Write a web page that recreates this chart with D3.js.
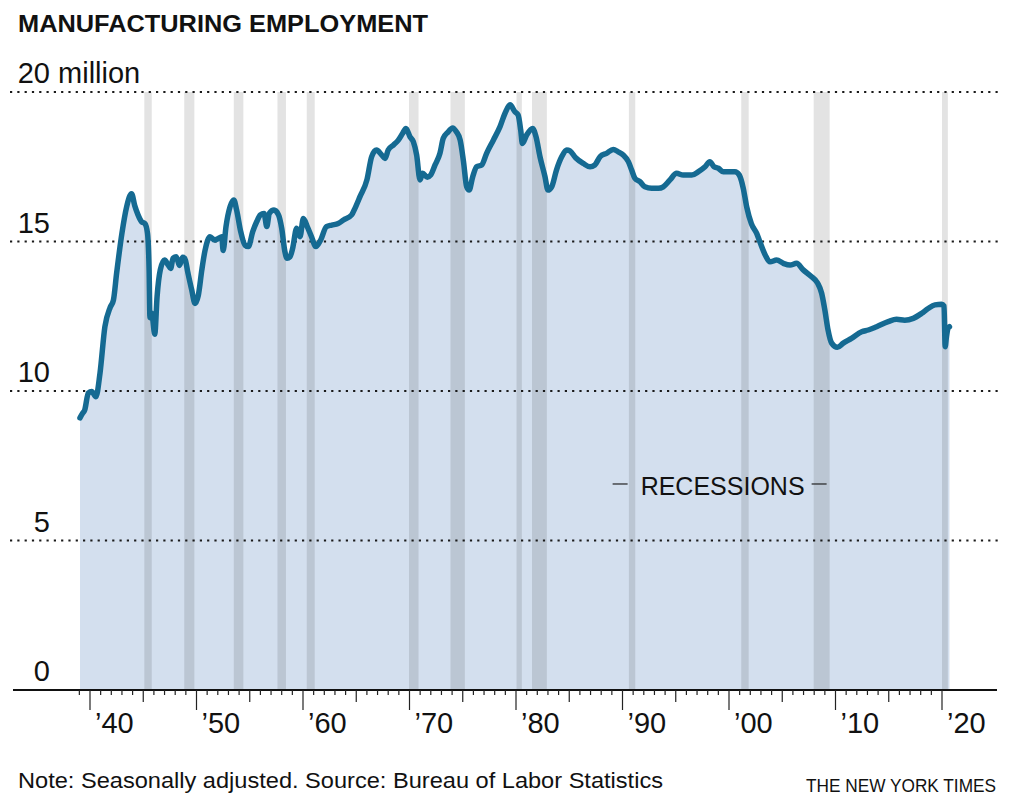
<!DOCTYPE html>
<html>
<head>
<meta charset="utf-8">
<script src="https://cdn.jsdelivr.net/npm/d3@7"></script>
<style>
  body { margin: 0; background: #fff; }
  text { font-family: "Liberation Sans", Arial, Helvetica, sans-serif; fill: #111; }
</style>
</head>
<body>
<script>
// monthly-ish readings of US manufacturing employment, millions
var years = [
  1939.06, 1939.3, 1939.5, 1939.84, 1940.16, 1940.56, 1940.94, 1941.4, 1941.9, 1942.2,
  1942.5, 1943.0, 1943.44, 1943.9, 1944.2, 1944.5, 1944.85, 1945.16, 1945.4, 1945.55,
  1945.63, 1945.8, 1946.08, 1946.3, 1946.6, 1947.0, 1947.35, 1947.57, 1947.8, 1948.1,
  1948.4, 1948.7, 1948.9, 1949.2, 1949.55, 1949.86, 1950.17, 1950.5, 1950.8, 1951.27,
  1951.7, 1952.05, 1952.37, 1952.5, 1952.77, 1953.15, 1953.5, 1953.77, 1954.15, 1954.55,
  1954.87, 1955.28, 1955.65, 1956.0, 1956.34, 1956.6, 1956.84, 1957.28, 1957.7, 1958.0,
  1958.3, 1958.5, 1958.78, 1959.03, 1959.4, 1959.72, 1960.03, 1960.4, 1960.8, 1961.2,
  1961.66, 1962.2, 1962.7, 1963.3, 1963.8, 1964.57, 1964.88, 1965.35, 1966.0, 1966.45,
  1966.9, 1967.4, 1967.7, 1968.0, 1968.5, 1968.95, 1969.36, 1969.67, 1970.05, 1970.36,
  1970.67, 1970.99, 1971.23, 1971.67, 1971.98, 1972.4, 1972.86, 1973.17, 1973.64, 1974.05,
  1974.4, 1974.76, 1975.07, 1975.37, 1975.6, 1975.94, 1976.3, 1976.78, 1977.24, 1977.87,
  1978.5, 1978.97, 1979.44, 1979.9, 1980.2, 1980.44, 1980.6, 1981.0, 1981.56, 1981.88,
  1982.25, 1982.72, 1983.0, 1983.35, 1983.8, 1984.3, 1984.76, 1985.07, 1985.6, 1986.32,
  1986.95, 1987.4, 1987.9, 1988.5, 1989.13, 1989.6, 1990.07, 1990.55, 1990.86, 1991.17,
  1991.64, 1992.1, 1992.74, 1993.36, 1993.83, 1994.46, 1995.08, 1995.7, 1996.5, 1997.1,
  1997.75, 1998.2, 1998.6, 1999.0, 1999.47, 2000.1, 2000.56, 2000.97, 2001.34, 2001.66,
  2002.1, 2002.6, 2002.9, 2003.4, 2003.85, 2004.47, 2005.1, 2005.73, 2006.35, 2006.97,
  2007.7, 2008.3, 2008.7, 2009.0, 2009.3, 2009.64, 2010.17, 2010.73, 2011.5, 2012.46,
  2013.08, 2013.86, 2014.95, 2015.73, 2016.5, 2017.3, 2018.1, 2018.7, 2019.34, 2019.97,
  2020.19, 2020.3, 2020.42, 2020.57, 2020.7
];
var jobs = [
  9.10, 9.25, 9.36, 9.93, 9.98, 9.81, 10.6, 12.15, 12.8, 13.04,
  13.94, 15.28, 16.16, 16.6, 16.2, 15.9, 15.66, 15.6, 15.27, 14.05,
  12.45, 12.6, 11.9, 13.16, 14.05, 14.38, 14.21, 14.1, 14.44, 14.49,
  14.2, 14.47, 14.44, 13.94, 13.38, 12.93, 13.2, 14.05, 14.7, 15.16,
  15.05, 15.1, 15.16, 14.7, 15.5, 16.16, 16.39, 16.05, 15.33, 14.88,
  14.83, 15.33, 15.66, 15.89, 15.94, 15.5, 15.94, 16.05, 15.89, 15.44,
  14.66, 14.44, 14.49, 14.77, 15.44, 15.16, 15.77, 15.5, 15.16, 14.83,
  15.05, 15.5, 15.55, 15.6, 15.72, 15.89, 16.11, 16.5, 17.06, 17.84,
  18.06, 17.89, 17.78, 18.06, 18.23, 18.39, 18.62, 18.78, 18.5, 18.34,
  17.89, 17.06, 17.28, 17.15, 17.22, 17.56, 17.95, 18.45, 18.67, 18.8,
  18.67, 18.39, 17.67, 16.83, 16.72, 17.17, 17.5, 17.56, 17.95, 18.39,
  18.84, 19.29, 19.57, 19.34, 19.23, 18.73, 18.28, 18.56, 18.78, 18.5,
  17.84, 17.17, 16.72, 16.83, 17.39, 17.84, 18.06, 18.03, 17.8, 17.61,
  17.5, 17.56, 17.84, 17.95, 18.08, 18.0, 17.89, 17.67, 17.39, 17.11,
  17.0, 16.83, 16.78, 16.78, 16.83, 17.06, 17.28, 17.22, 17.22, 17.33,
  17.5, 17.67, 17.5, 17.45, 17.33, 17.33, 17.33, 17.22, 16.78, 16.16,
  15.6, 15.27, 14.99, 14.55, 14.32, 14.38, 14.27, 14.21, 14.27, 14.05,
  13.84, 13.62, 13.27, 12.71, 12.04, 11.6, 11.46, 11.6, 11.76, 11.98,
  12.04, 12.15, 12.32, 12.4, 12.37, 12.43, 12.6, 12.76, 12.88, 12.9,
  12.84, 11.48, 11.82, 12.1, 12.15
];
var recessionStart = [1945.1, 1948.85, 1953.5, 1957.6, 1960.35, 1969.95, 1973.85, 1980.05, 1981.5, 1990.6, 2001.15, 2007.95, 2020.0];
var recessionEnd   = [1945.8, 1949.8, 1954.4, 1958.4, 1961.1, 1970.85, 1975.2, 1980.55, 1982.9, 1991.2, 2001.85, 2009.45, 2020.55];
var yTicks = [0, 5, 10, 15, 20];
var decadeTicks = [1940, 1950, 1960, 1970, 1980, 1990, 2000, 2010, 2020];
var decadeLabels = ["\u201940", "\u201950", "\u201960", "\u201970", "\u201980", "\u201990", "\u201900", "\u201910", "\u201920"];

var width = 1024, height = 802;

var x = d3.scaleLinear().domain([1940, 2020]).range([90, 942]);
var y = d3.scaleLinear().domain([0, 20]).range([690, 92]);

var data = years.map(function(d, i) { return { t: d, v: jobs[i] }; });

var svg = d3.select('body').append('svg')
    .attr('width', width)
    .attr('height', height);

svg.append('text')
    .attr('x', 18).attr('y', 32)
    .attr('textLength', 410)
    .attr('lengthAdjust', 'spacingAndGlyphs')
    .style('font-size', '24px')
    .style('font-weight', 'bold')
    .text('MANUFACTURING EMPLOYMENT');

// area
var area = d3.area()
    .curve(d3.curveMonotoneX)
    .x(function(d) { return x(d.t); })
    .y0(y(0))
    .y1(function(d) { return y(d.v); });

svg.append('path')
    .datum(data)
    .attr('fill', '#d3dfee')
    .attr('d', area);

// recession bars, drawn as a dark tint so they darken the area too
svg.selectAll('rect.rec')
    .data(recessionStart)
    .enter()
    .append('rect')
    .attr('class', 'rec')
    .attr('x', function(d) { return x(d); })
    .attr('width', function(d, i) { return x(recessionEnd[i]) - x(d); })
    .attr('y', y(20))
    .attr('height', y(0) - y(20))
    .attr('fill', '#000')
    .attr('fill-opacity', 0.11);

// dotted gridlines
svg.selectAll('line.grid')
    .data(yTicks.filter(function(d) { return d > 0; }))
    .enter()
    .append('line')
    .attr('class', 'grid')
    .attr('x1', 10).attr('x2', 1000)
    .attr('y1', function(d) { return y(d); })
    .attr('y2', function(d) { return y(d); })
    .attr('stroke', '#1a1a1a')
    .attr('stroke-width', 2.2)
    .attr('stroke-dasharray', '2.2,5.1');

// y labels
svg.selectAll('text.ylab')
    .data(yTicks)
    .enter()
    .append('text')
    .attr('class', 'ylab')
    .attr('x', 50)
    .attr('y', function(d) { return y(d) - 9; })
    .attr('text-anchor', 'end')
    .style('font-size', '29px')
    .text(function(d) { return d; });

svg.append('text')
    .attr('x', 50).attr('y', y(20) - 9)
    .style('font-size', '29px')
    .text('\u00a0million');

// line
var line = d3.line()
    .curve(d3.curveMonotoneX)
    .x(function(d) { return x(d.t); })
    .y(function(d) { return y(d.v); });

svg.append('path')
    .datum(data)
    .attr('fill', 'none')
    .attr('stroke', '#156a92')
    .attr('stroke-width', 5.5)
    .attr('stroke-linejoin', 'round')
    .attr('stroke-linecap', 'round')
    .attr('d', line);

// x axis
var xAxis = svg.append('g').attr('transform', 'translate(0,' + y(0) + ')');

xAxis.append('line')
    .attr('x1', 13).attr('x2', 997)
    .attr('stroke', '#111')
    .attr('stroke-width', 2);

var yearTicks = d3.range(1939, 2021);
xAxis.selectAll('line.tick')
    .data(yearTicks)
    .enter()
    .append('line')
    .attr('class', 'tick')
    .attr('x1', function(d) { return x(d); })
    .attr('x2', function(d) { return x(d); })
    .attr('y1', 0)
    .attr('y2', function(d) { return d % 10 === 0 ? 20 : (d % 5 === 0 ? 12 : 5); })
    .attr('stroke', '#222')
    .attr('stroke-width', 1.2);

xAxis.selectAll('text.xlab')
    .data(decadeTicks)
    .enter()
    .append('text')
    .attr('class', 'xlab')
    .attr('x', function(d) { return x(d) + 5; })
    .attr('y', 43)
    .style('font-size', '29px')
    .text(function(d, i) { return decadeLabels[i]; });

// recessions label
var lx = x(1999.4), ly = y(6.89);
svg.append('text')
    .attr('x', lx).attr('y', ly + 11)
    .attr('text-anchor', 'middle')
    .style('font-size', '25px')
    .text('RECESSIONS');
svg.append('line')
    .attr('x1', lx - 110).attr('x2', lx - 95)
    .attr('y1', ly).attr('y2', ly)
    .attr('stroke', '#222').attr('stroke-width', 1.2);
svg.append('line')
    .attr('x1', lx + 89).attr('x2', lx + 104)
    .attr('y1', ly).attr('y2', ly)
    .attr('stroke', '#222').attr('stroke-width', 1.2);

// footer
svg.append('text')
    .attr('x', 18).attr('y', 788)
    .attr('textLength', 645)
    .attr('lengthAdjust', 'spacingAndGlyphs')
    .style('font-size', '22px')
    .text('Note: Seasonally adjusted. Source: Bureau of Labor Statistics');

svg.append('text')
    .attr('x', 996).attr('y', 792)
    .attr('text-anchor', 'end')
    .attr('textLength', 190)
    .attr('lengthAdjust', 'spacingAndGlyphs')
    .style('font-size', '18px')
    .text('THE NEW YORK TIMES');
</script>
</body>
</html>
